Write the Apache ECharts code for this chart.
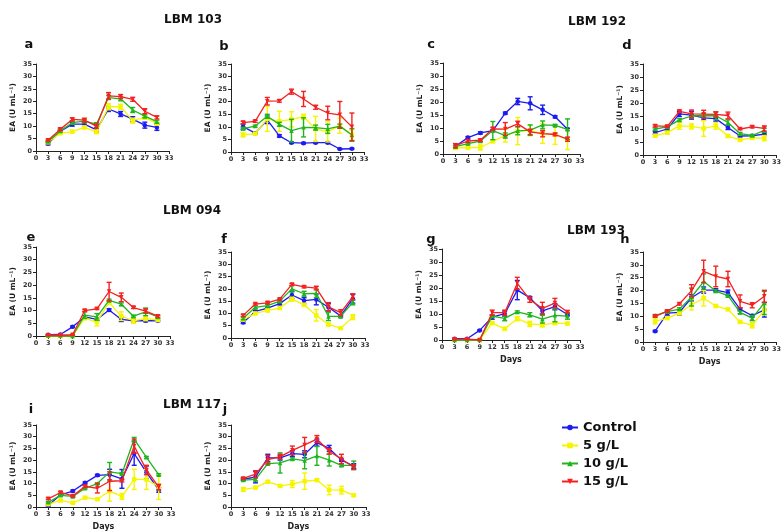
<!DOCTYPE html>
<html><head><meta charset="utf-8">
<script src="https://cdn.jsdelivr.net/npm/echarts@6/dist/echarts.min.js"></script>
<style>html,body{margin:0;padding:0;background:#fff}#c{width:784px;height:532px}</style>
</head><body><div id="c"></div>
<script>
// ---------- DATA ----------
const DAYS = [3,6,9,12,15,18,21,24,27,30];
const SERIES_NAMES = ['Control','5 g/L','10 g/L','15 g/L'];
const STRAIN_TITLES = ['LBM 103','LBM 192','LBM 094','LBM 193','LBM 117'];
const PANEL_LETTERS = ['a','b','c','d','e','f','g','h','i','j'];

// a
const A_CONTROL = [2.9,7.9,10.8,10.8,8.5,16.9,14.9,12.8,10.4,9.5];
const A_CONTROL_ERR = [0.4,0.4,0.8,0.8,0.8,1,1,1,1.2,1.2];
const A_5G = [3.5,7.1,7.8,9.5,7.7,17.8,17.8,12.2,13.5,11];
const A_5G_ERR = [0.3,0.3,0.5,0.5,0.7,1.2,1,1,0.7,0.5];
const A_10G = [3.8,8,11.4,12,10.8,21.5,21,16.5,14,11.8];
const A_10G_ERR = [0.3,0.5,0.6,0.6,0.6,0.8,0.8,1,0.6,0.6];
const A_15G = [4.3,8.7,12.7,12.4,10,22.2,21.9,20.8,16,13.5];
const A_15G_ERR = [0.4,0.5,0.6,0.8,0.8,1.3,0.8,0.8,1,0.6];
// b
const B_CONTROL = [10.1,7.5,12.8,6.4,3.7,3.5,3.7,3.7,1.2,1.3];
const B_CONTROL_ERR = [1,0.3,1.5,0.5,0.3,0.3,0.3,0.3,0.2,0.2];
const B_5G = [6.8,7.3,13.2,12.2,13,14,9.2,8,10.5,6.8];
const B_5G_ERR = [0.8,0.3,5,4,3,1,5,4,3,2];
const B_10G = [9.3,10.3,14.2,11,8.5,9.8,9.7,9.2,10.3,6.8];
const B_10G_ERR = [0.5,0.4,0.8,0.8,4.5,3.8,1,1.8,0.8,2.5];
const B_15G = [11.7,12.2,20.2,20.3,24,21.1,17.8,15.5,14.8,10];
const B_15G_ERR = [0.5,0.4,1.5,0.5,1,3,0.8,2.7,5.3,5.5];
// c
const C_CONTROL = [3,6.3,8.1,9,15.7,20.2,19.5,17,14.3,9.5];
const C_CONTROL_ERR = [0.3,0.4,0.4,0.4,0.4,1.2,2.5,1.8,0.4,0.4];
const C_5G = [2.3,2.5,2.5,4.9,7.1,8.8,9,7.9,7.5,5.5];
const C_5G_ERR = [0.5,0.5,1,0.5,2.5,5.2,2,3.8,3.8,3.8];
const C_10G = [2.8,4,5,9,7.1,8.9,9.2,11.2,11,9.5];
const C_10G_ERR = [0.3,0.4,0.4,3.5,1,1.5,2,1.5,0.4,4];
const C_15G = [3.2,5,5.3,9.7,9.6,11.6,8.5,7.8,7.5,5.7];
const C_15G_ERR = [0.8,0.5,0.5,0.5,2.5,1,1,1.2,0.5,0.8];
// d
const D_CONTROL = [8.6,10,15.8,15.3,14.3,14,10.6,7.3,7.4,8];
const D_CONTROL_ERR = [0.5,0.5,1,1.5,0.8,1,0.8,0.4,0.3,0.5];
const D_5G = [7.4,8.6,11.2,11,10.2,11.2,7.3,5.8,6.6,6.5];
const D_5G_ERR = [0.5,0.5,1.3,1,3,1.3,0.5,0.5,0.4,1];
const D_10G = [10,10.8,13.5,15,15.2,15.1,12.5,8.2,7.5,9.5];
const D_10G_ERR = [0.4,0.4,0.5,0.8,0.8,1.5,1,0.5,0.4,0.8];
const D_15G = [11.2,11,16.8,15.8,15.7,15.6,15.2,10,10.8,10.2];
const D_15G_ERR = [0.4,0.4,0.5,1.5,1.5,1,1.3,0.3,0.4,1];
// e
const E_CONTROL = [0.5,0.6,3.6,7.5,6.5,10.2,6.5,6,6,6];
const E_CONTROL_ERR = [0.2,0.2,0.3,0.5,0.5,0.5,0.8,0.5,0.4,0.3];
const E_5G = [0,0,0,7,5.5,13.2,7.8,6,6.8,6.3];
const E_5G_ERR = [0.2,0.2,0.2,0.5,1.5,0.5,1.7,1,0.8,0.5];
const E_10G = [0.2,0.2,0,8.2,7.5,14,12.5,7.8,9.5,7.5];
const E_10G_ERR = [0.2,0.2,0.2,1.3,1.3,0.5,0.5,0.4,1.5,0.5];
const E_15G = [0.3,0.3,0.5,10,10.7,17.5,15.2,11.2,9.8,7.8];
const E_15G_ERR = [0.2,0.2,0.2,0.4,0.3,3.6,1.7,0.4,0.8,0.5];
// f
const F_CONTROL = [6.3,10.8,12.2,14,17.5,15.2,15.7,12.5,9,16];
const F_CONTROL_ERR = [0.4,0.4,0.5,0.5,1.5,1.2,2.2,1.5,0.5,1.8];
const F_5G = [7.5,10,11.2,12.2,15.8,13.5,9.2,5.5,4,8.5];
const F_5G_ERR = [0.5,0.4,0.5,0.4,0.8,0.5,2.3,0.5,0.3,1];
const F_10G = [8,12.5,13.2,15,20,18,18.2,8.8,8.8,14.5];
const F_10G_ERR = [0.5,0.5,0.5,0.5,1.3,1,1.7,1.7,0.5,1];
const F_15G = [9.2,13.8,14.3,15.8,21.8,20.8,20.3,12.7,10.3,16.8];
const F_15G_ERR = [0.4,0.4,0.4,0.4,0.4,0.4,0.7,1.7,1.2,1.2];
// g
const G_CONTROL = [0.5,0.5,3.7,8.8,10.1,19.2,16.3,11.2,12.8,9.8];
const G_CONTROL_ERR = [0.2,0.2,0.2,0.8,1,3.7,0.4,1.2,1.2,0.5];
const G_5G = [0,0,0,6.5,4.3,8.2,6.2,5.8,6.5,6.3];
const G_5G_ERR = [0.2,0.2,0.2,0.4,0.5,0.8,1,0.8,0.5,0.5];
const G_10G = [0,0,0,9.2,8.3,10.8,9.7,8,9.5,9.2];
const G_10G_ERR = [0.2,0.2,0.2,0.4,0.9,0.4,0.8,1.5,2.5,1.2];
const G_15G = [0.3,0.3,0,10.5,10.5,21.8,15.5,12.2,14.2,10.8];
const G_15G_ERR = [0.2,0.2,0.2,1,1,2.3,1,2.3,1.8,0.5];
// h
const H_CONTROL = [4.2,11.2,11.5,17.2,20.2,20.2,19.2,12.8,10.2,12.5];
const H_CONTROL_ERR = [0.3,0.8,1,1.2,1.2,0.5,1,0.5,0.5,2.8];
const H_5G = [8,9.3,11.2,14.5,17,14,12.7,7.8,6.5,12.5];
const H_5G_ERR = [1,0.5,0.5,2,3,0.4,0.4,0.4,1,2];
const H_10G = [10.3,11.8,12.8,17.5,23.5,19.8,18,11.5,9.3,15.2];
const H_10G_ERR = [0.4,0.5,0.5,3.5,3,0.5,0.5,0.5,1,4.5];
const H_15G = [10,12,14.8,20,27.5,25.5,24.5,15.8,14.3,17.8];
const H_15G_ERR = [0.4,0.4,0.4,2.3,4.3,4,3,2.5,1,2.3];
// i
const I_CONTROL = [0.6,5.2,6.8,10.3,13.5,13.8,12,22.8,14.8,7.3];
const I_CONTROL_ERR = [0.3,0.4,0.4,0.4,0.4,2.3,4,5,2.7,1];
const I_5G = [1.2,2.8,1.8,4,3.3,6.8,4.5,11.8,11.8,8.7];
const I_5G_ERR = [0.3,0.3,0.3,0.3,0.3,4.3,1.3,4.3,4.3,5.5];
const I_10G = [2,5,4.5,8,10,15,14.2,29,21.2,13.8];
const I_10G_ERR = [0.3,0.3,0.3,0.3,0.3,4,0.5,0.7,0.4,0.4];
const I_15G = [3.5,6.2,4.7,8.8,8,11,11.2,26,15.8,8.5];
const I_15G_ERR = [0.4,0.4,0.4,0.4,2,4,0.5,3,2,1.2];
// j
const J_CONTROL = [11.8,12.8,21,21,22.8,22.5,27.5,25,20,17.5];
const J_CONTROL_ERR = [0.4,2.5,1.5,1,1.2,1.5,1.5,1.3,0.5,1];
const J_5G = [7.5,8.3,10.8,9,9.8,11,11.5,7.3,7.2,5];
const J_5G_ERR = [0.8,0.5,0.4,0.4,1.5,3.5,0.5,2,1.6,0.4];
const J_10G = [11.5,11.8,18.5,18.8,20.5,19.8,21.8,20,17.8,17.8];
const J_10G_ERR = [0.4,0.7,0.5,4.3,0.5,3.5,4,2.5,0.5,1.8];
const J_15G = [12.2,14,20.2,21.5,24.2,26.5,29,23.8,20.5,17];
const J_15G_ERR = [0.4,1.5,1.8,1,1.8,3.2,1.5,1.2,2,1];

const PANEL_DATA = [
  [[A_CONTROL,A_CONTROL_ERR],[A_5G,A_5G_ERR],[A_10G,A_10G_ERR],[A_15G,A_15G_ERR]],
  [[B_CONTROL,B_CONTROL_ERR],[B_5G,B_5G_ERR],[B_10G,B_10G_ERR],[B_15G,B_15G_ERR]],
  [[C_CONTROL,C_CONTROL_ERR],[C_5G,C_5G_ERR],[C_10G,C_10G_ERR],[C_15G,C_15G_ERR]],
  [[D_CONTROL,D_CONTROL_ERR],[D_5G,D_5G_ERR],[D_10G,D_10G_ERR],[D_15G,D_15G_ERR]],
  [[E_CONTROL,E_CONTROL_ERR],[E_5G,E_5G_ERR],[E_10G,E_10G_ERR],[E_15G,E_15G_ERR]],
  [[F_CONTROL,F_CONTROL_ERR],[F_5G,F_5G_ERR],[F_10G,F_10G_ERR],[F_15G,F_15G_ERR]],
  [[G_CONTROL,G_CONTROL_ERR],[G_5G,G_5G_ERR],[G_10G,G_10G_ERR],[G_15G,G_15G_ERR]],
  [[H_CONTROL,H_CONTROL_ERR],[H_5G,H_5G_ERR],[H_10G,H_10G_ERR],[H_15G,H_15G_ERR]],
  [[I_CONTROL,I_CONTROL_ERR],[I_5G,I_5G_ERR],[I_10G,I_10G_ERR],[I_15G,I_15G_ERR]],
  [[J_CONTROL,J_CONTROL_ERR],[J_5G,J_5G_ERR],[J_10G,J_10G_ERR],[J_15G,J_15G_ERR]]
];

// ---------- LAYOUT / STYLE ----------
const FONT = '"DejaVu Sans", Verdana, sans-serif';
const COLORS = ['#1c1cf0','#f5f500','#1fb51f','#f52020'];
const SYMBOLS = ['circle','rect','triangle','path://M0,0 L10,0 L5,10 Z'];
const GRIDS = [
  {left:36, top:64, width:133, height:87},
  {left:231, top:64, width:133, height:88},
  {left:443, top:63, width:137, height:91},
  {left:643, top:64, width:138, height:91},
  {left:36, top:247, width:134, height:89},
  {left:231, top:252, width:134, height:86},
  {left:442, top:249, width:138, height:91},
  {left:643, top:252, width:138, height:90},
  {left:36, top:425, width:135, height:88},
  {left:231, top:425, width:135, height:88}
];
const SHOW_DAYS = [false,false,false,false,false,false,true,true,true,true];
const TITLE_POS = [[193,20],[597,22],[192,211],[596,231],[192,405]];
const LETTER_POS = [[29,45],[224,47],[431,45],[627,46],[31,238],[224,240],[431,240],[625,240],[31,410],[225,410]];

function errRender(color){
  return function(params, api){
    const x = api.value(0), lo = api.value(1), hi = api.value(2);
    const a = api.coord([x, lo]), b = api.coord([x, hi]);
    const hw = 2.5;
    const style = {stroke: color, lineWidth: 1.4, fill: null};
    return {type:'group', children:[
      {type:'line', shape:{x1:a[0],y1:a[1],x2:b[0],y2:b[1]}, style:style},
      {type:'line', shape:{x1:a[0]-hw,y1:a[1],x2:a[0]+hw,y2:a[1]}, style:style},
      {type:'line', shape:{x1:b[0]-hw,y1:b[1],x2:b[0]+hw,y2:b[1]}, style:style}
    ]};
  };
}

const grid = [], xAxis = [], yAxis = [], series = [];
GRIDS.forEach((g, i) => {
  grid.push(Object.assign({containLabel:false}, g));
  xAxis.push({
    type:'value', gridIndex:i, min:0, max:33, interval:3,
    name: SHOW_DAYS[i] ? 'Days' : '', nameLocation:'middle', nameGap:16,
    nameTextStyle:{fontFamily:FONT, fontWeight:'bold', fontSize:8, color:'#222'},
    axisLine:{show:true, lineStyle:{color:'#222', width:1}},
    axisTick:{show:true, length:3, lineStyle:{color:'#222'}},
    axisLabel:{fontFamily:FONT, fontWeight:'bold', fontSize:6.5, color:'#333', margin:4},
    splitLine:{show:false}
  });
  yAxis.push({
    type:'value', gridIndex:i, min:0, max:35, interval:5,
    name:'EA (U mL\u207B\u00B9)', nameLocation:'middle', nameGap:19,
    nameTextStyle:{fontFamily:FONT, fontWeight:'bold', fontSize:7.5, color:'#222'},
    axisLine:{show:true, lineStyle:{color:'#222', width:1}},
    axisTick:{show:true, length:3, lineStyle:{color:'#222'}},
    axisLabel:{fontFamily:FONT, fontWeight:'bold', fontSize:6.5, color:'#333', margin:4},
    splitLine:{show:false}
  });
  PANEL_DATA[i].forEach((pair, s) => {
    const vals = pair[0], errs = pair[1];
    series.push({
      type:'custom', xAxisIndex:i, yAxisIndex:i, z:2+s,
      renderItem: errRender(COLORS[s]), silent:true,
      data: DAYS.map((d,k) => [d, Math.max(0, vals[k]-errs[k]), vals[k]+errs[k]])
    });
    series.push({
      type:'line', name:SERIES_NAMES[s], xAxisIndex:i, yAxisIndex:i, z:2+s,
      data: DAYS.map((d,k) => [d, vals[k]]),
      symbol: SYMBOLS[s], symbolSize:4.5, showSymbol:true,
      lineStyle:{color:COLORS[s], width:1.3},
      itemStyle:{color:COLORS[s]},
      animation:false
    });
  });
});

const graphic = [];
STRAIN_TITLES.forEach((t, k) => {
  graphic.push({type:'text', x:TITLE_POS[k][0], y:TITLE_POS[k][1],
    style:{text:t, font:'bold 12px ' + FONT, fill:'#111', textAlign:'center', textVerticalAlign:'middle'}});
});
PANEL_LETTERS.forEach((t, k) => {
  graphic.push({type:'text', x:LETTER_POS[k][0], y:LETTER_POS[k][1],
    style:{text:t, font:'bold 13px ' + FONT, fill:'#111', textAlign:'center', textVerticalAlign:'middle'}});
});

const chart = echarts.init(document.getElementById('c'), null, {renderer:'canvas'});
chart.setOption({
  backgroundColor:'#fff',
  animation:false,
  grid, xAxis, yAxis, series, graphic,
  legend:{
    data: SERIES_NAMES, orient:'vertical', left:556, top:416, itemGap:5,
    itemWidth:16, itemHeight:7,
    textStyle:{fontFamily:FONT, fontWeight:'bold', fontSize:13, color:'#111'}
  }
});
</script></body></html>
